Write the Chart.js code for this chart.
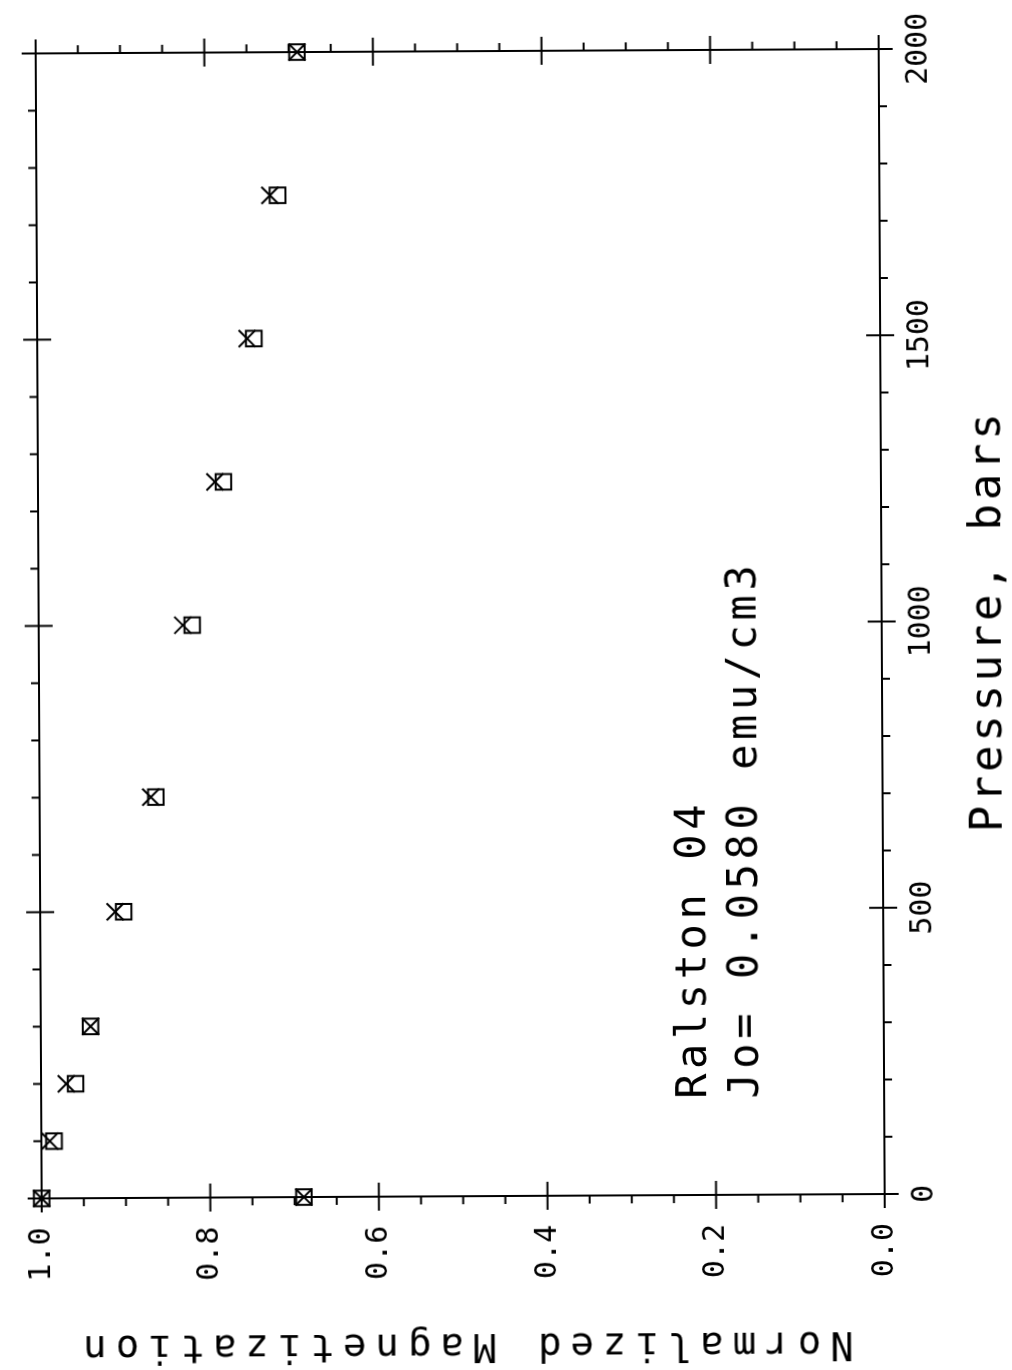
<!DOCTYPE html>
<html><head><meta charset="utf-8">
<script src="https://cdn.jsdelivr.net/npm/chart.js@4.4.1/dist/chart.umd.min.js"></script>
<style>
html,body{margin:0;padding:0;background:#fff;overflow:hidden;width:1012px;height:1370px;}
#wrap{position:absolute;left:-179px;top:179px;width:1370px;height:1012px;transform:rotate(-90.3deg);transform-origin:50% 50%;background:#fff;}
canvas{display:block;}
</style></head><body>
<div id="wrap"><canvas id="c" width="1370" height="1012" style="width:1370px;height:1012px"></canvas></div>
<script>
// ---- data ----
const pressure   = [0, 100, 200, 300, 500, 700, 1000, 1250, 1500, 1750, 2000, 0];
const magSquare  = [1.000, 0.985, 0.959, 0.941, 0.901, 0.862, 0.818, 0.780, 0.743, 0.714, 0.690, 0.689];
const magCross   = [1.000, 0.990, 0.970, 0.941, 0.911, 0.868, 0.829, 0.790, 0.751, 0.723, 0.690, 0.689];
const pressureTickLabels = ['0', '500', '1000', '1500', '2000'];
const magTickLabels = ['0.0', '0.2', '0.4', '0.6', '0.8', '1.0'];
const xTitle = 'Pressure, bars';
const yTitle = 'Normalized Magnetization';
const noteLines = ['Ralston 04', 'Jo= 0.0580 emu/cm3'];

// ---- layout / style ----
const FONT = "'DejaVu Sans Mono', 'Liberation Mono', monospace";
const notePos = { pressure: 168, mag: [0.211, 0.149] };
const TITLE_SPACING = { x: '3.7px', y: '9px' };

const origDrawTitle = Chart.Scale && Chart.Scale.prototype.drawTitle;
if (typeof origDrawTitle === 'function') {
  Chart.Scale.prototype.drawTitle = function (...args) {
    const ctx = this.ctx;
    ctx.save();
    ctx.letterSpacing = TITLE_SPACING[this.id] || '0px';
    origDrawTitle.apply(this, args);
    ctx.restore();
  };
}

const frameTicks = {
  id: 'frameTicks',
  beforeDatasetsDraw(chart) {
    const { ctx, chartArea: a, scales } = chart;
    ctx.save();
    ctx.strokeStyle = '#000';
    ctx.lineWidth = 2;
    ctx.strokeRect(a.left, a.top, a.right - a.left, a.bottom - a.top);
    const MAJ = 14, MIN = 8;
    [['x', a.bottom, 1], ['x2', a.top, -1]].forEach(([id, edge, dir]) => {
      const s = scales[id];
      s.ticks.forEach(t => {
        const p = s.getPixelForValue(t.value);
        const major = Math.round(t.value) % 500 === 0;
        ctx.beginPath();
        ctx.moveTo(p, edge - (major ? MAJ : 0) * dir);
        ctx.lineTo(p, edge + (major ? MAJ : MIN) * dir);
        ctx.stroke();
      });
    });
    [['y', a.left, -1], ['y2', a.right, 1]].forEach(([id, edge, dir]) => {
      const s = scales[id];
      s.ticks.forEach(t => {
        const p = s.getPixelForValue(t.value);
        const major = Math.round(t.value * 100) % 20 === 0;
        ctx.beginPath();
        ctx.moveTo(edge - (major ? MAJ : 0) * dir, p);
        ctx.lineTo(edge + (major ? MAJ : MIN) * dir, p);
        ctx.stroke();
      });
    });
    ctx.restore();
  },
  afterDatasetsDraw(chart) {
    const { ctx, scales } = chart;
    ctx.save();
    ctx.fillStyle = '#000';
    ctx.font = "42px " + FONT;
    ctx.letterSpacing = '4.6px';
    ctx.textAlign = 'left';
    ctx.textBaseline = 'alphabetic';
    const x = scales.x.getPixelForValue(notePos.pressure);
    noteLines.forEach((line, i) => {
      ctx.fillText(line, x, scales.y.getPixelForValue(notePos.mag[i]));
    });
    ctx.restore();
  }
};

Chart.defaults.color = '#000';

const xy = (ys) => pressure.map((p, i) => ({ x: p, y: ys[i] }));

new Chart(document.getElementById('c'), {
  type: 'scatter',
  data: {
    datasets: [
      { label: 'square', data: xy(magSquare), pointStyle: 'rect', pointRadius: 11, pointHoverRadius: 11,
        borderColor: '#000', backgroundColor: 'rgba(0,0,0,0)', pointBorderWidth: 2, borderWidth: 2, clip: false },
      { label: 'cross', data: xy(magCross), pointStyle: 'crossRot', pointRadius: 12, pointHoverRadius: 12,
        borderColor: '#000', backgroundColor: 'rgba(0,0,0,0)', pointBorderWidth: 2, borderWidth: 2, clip: false }
    ]
  },
  options: {
    responsive: false,
    maintainAspectRatio: false,
    animation: false,
    devicePixelRatio: 1,
    layout: { padding: 0 },
    plugins: { legend: { display: false }, tooltip: { enabled: false } },
    events: [],
    scales: {
      x: {
        type: 'linear', position: 'bottom', min: 0, max: 2000,
        grid: { display: false }, border: { display: false },
        ticks: { stepSize: 100, autoSkip: false, maxRotation: 0, padding: 14,
          font: { family: FONT, size: 30 },
          callback: v => pressureTickLabels.includes(String(v)) ? String(v) : '' },
        title: { display: true, text: xTitle, padding: 0,
          font: { family: FONT, size: 44, lineHeight: 1.0 } },
        afterFit: s => { s.height = 130; }
      },
      x2: {
        type: 'linear', position: 'top', min: 0, max: 2000,
        grid: { display: false }, border: { display: false },
        ticks: { stepSize: 100, display: false },
        afterFit: s => { s.height = 29; }
      },
      y: {
        type: 'linear', position: 'left', min: 0, max: 1,
        grid: { display: false }, border: { display: false },
        ticks: { stepSize: 0.05, autoSkip: false, padding: 21,
          font: { family: FONT, size: 30 },
          callback: v => { const s = v.toFixed(1); return (Math.round(v * 100) % 20 === 0 && magTickLabels.includes(s)) ? s : ''; } },
        title: { display: true, text: yTitle, padding: { top: 2, bottom: 0 },
          font: { family: FONT, size: 39, lineHeight: 1.2 } },
        afterFit: s => { s.width = 174; }
      },
      y2: {
        type: 'linear', position: 'right', min: 0, max: 1,
        grid: { display: false }, border: { display: false },
        ticks: { stepSize: 0.05, display: false },
        afterFit: s => { s.width = 51; }
      }
    }
  },
  plugins: [frameTicks]
});
</script></body></html>
